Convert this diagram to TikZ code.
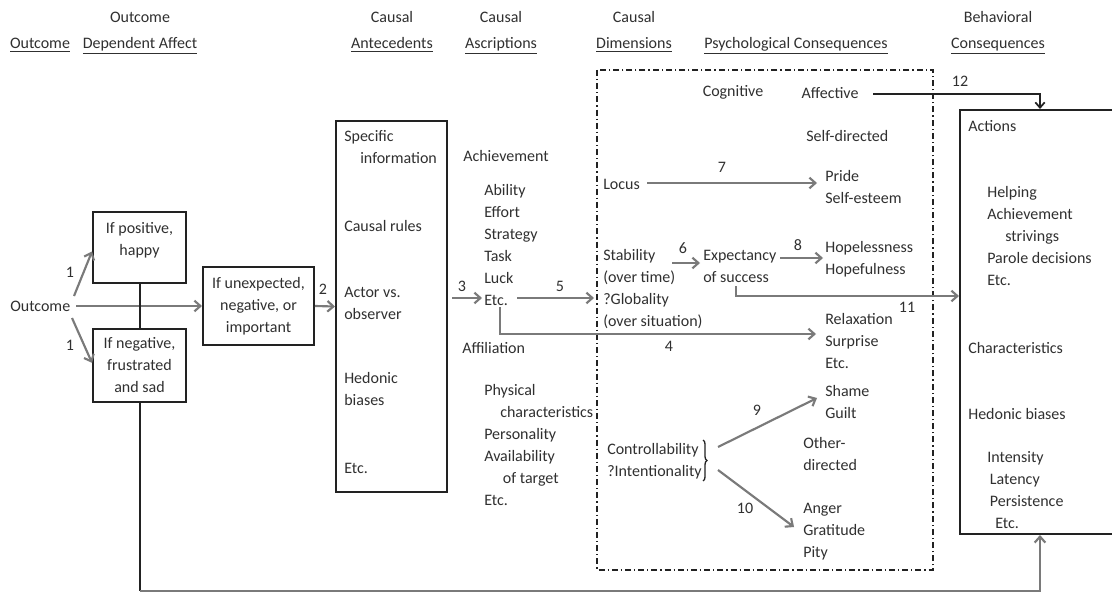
\documentclass[tikz,border=0pt]{standalone}
\usepackage{fontspec}
\setmainfont{Carlito}
\usetikzlibrary{arrows.meta,decorations.pathreplacing}
\definecolor{txtc}{HTML}{303030}
\definecolor{arrc}{HTML}{7A7A7A}
\definecolor{linec}{HTML}{222222}
\begin{document}
\begin{tikzpicture}[x=0.75pt,y=-0.75pt,
  every node/.style={font=\fontsize{12}{16.5}\selectfont, text=txtc},
  txt/.style={anchor=base west, inner sep=0pt, align=left},
  hdr/.style={anchor=base, inner sep=0pt, align=center, font=\fontsize{12}{19.5}\selectfont},
  lbl/.style={anchor=base, inner sep=0pt},
  box/.style={draw=linec, line width=1.5pt, inner sep=0pt, align=center},
  arr/.style={draw=arrc, line width=1.6pt, -{Straight Barb[length=4.5pt,width=8pt,line width=1.6pt]}},
  barr/.style={draw=linec, line width=1.3pt, -{Straight Barb[length=4pt,width=7pt,line width=1.3pt]}},
  dimframe/.style={draw=linec, line width=1.5pt, dash pattern=on 4.5pt off 2.2pt on 1pt off 2.2pt}
]
\fill[white] (0,0) rectangle (1112,595);
\useasboundingbox (0,0) rectangle (1112,595);

% headers (base = last line)
\node[hdr] (hout) at (40,49) {\underline{Outcome}};
\node[hdr] (hoda) at (140,49) {Outcome\\\underline{Dependent Affect}};
\node[hdr] (hante) at (392,49) {Causal\\\underline{Antecedents}};
\node[hdr] (hascr) at (501,49) {Causal\\\underline{Ascriptions}};
\node[hdr] (hdim) at (634,49) {Causal\\\underline{Dimensions}};
\node[hdr] (hpsy) at (796,49) {\underline{Psychological Consequences}};
\node[hdr] (hbeh) at (998,49) {Behavioral\\\underline{Consequences}};

% dimension frame
\draw[dimframe] (597,70) rectangle (933,570);

% left part
\node[txt] (outcome) at (10,311) {Outcome};
\node[box, minimum width=93*0.75pt, minimum height=71*0.75pt, text depth=13pt] (pos) at (139.5,247.5) {If positive,\\happy};
\node[box, minimum width=93*0.75pt, minimum height=73*0.75pt] (neg) at (139.5,365.5) {If negative,\\frustrated\\and sad};
\node[box, minimum width=111*0.75pt, minimum height=78*0.75pt] (unexp) at (258.5,306) {If unexpected,\\negative, or\\important};

% antecedents box
\node[box, minimum width=111*0.75pt, minimum height=371*0.75pt] (ante) at (391.5,306.5) {};
\node[txt] (spec) at (344,164) {Specific\\\hspace*{12pt}information};
\node[txt] (crules) at (344,231) {Causal rules};
\node[txt] (actor) at (344,319) {Actor vs.\\observer};
\node[txt] (hedon) at (344,405) {Hedonic\\biases};
\node[txt] (aetc) at (344,473) {Etc.};

% ascriptions
\node[txt] (achv) at (463,162) {Achievement};
\node[txt] (achlist) at (484,305) {Ability\\Effort\\Strategy\\Task\\Luck\\Etc.};
\node[txt] (affil) at (462,353) {Affiliation};
\node[txt] (afflist) at (484,505) {Physical\\\hspace*{12pt}characteristics\\Personality\\Availability\\\hspace*{14pt}of target\\Etc.};

% dimensions
\node[txt] (locus) at (603,190) {Locus};
\node[txt] (stab) at (603,326) {Stability\\(over time)\\?Globality\\(over situation)};
\node[txt] (ctrl) at (607,476) {Controllability\\?Intentionality};
\draw[linec, line width=1pt, decorate, decoration={brace, amplitude=3pt}] (703,440) -- (703,481);

% psychological consequences
\node[txt, anchor=base] (cogn) at (733,97) {Cognitive};
\node[txt, anchor=base] (affe) at (830,99) {Affective};
\node[txt] (selfd) at (806,142) {Self-directed};
\node[txt] (pride) at (825,204) {Pride\\Self-esteem};
\node[txt] (expect) at (703,282) {Expectancy\\of success};
\node[txt] (hope) at (825,274) {Hopelessness\\Hopefulness};
\node[txt] (relax) at (825,368) {Relaxation\\Surprise\\Etc.};
\node[txt] (shame) at (825,418) {Shame\\Guilt};
\node[txt] (otherd) at (803,470) {Other-\\directed};
\node[txt] (anger) at (803,557) {Anger\\Gratitude\\Pity};

% behavioral box
\node[box, minimum width=156*0.75pt, minimum height=424*0.75pt] (beh) at (1038,322) {};
\node[txt] (actions) at (968,132) {Actions};
\node[txt] (actlist) at (987,285) {Helping\\Achievement\\\hspace*{13.5pt}strivings\\Parole decisions\\Etc.};
\node[txt] (charac) at (968,353) {Characteristics};
\node[txt] (hedb) at (968,419) {Hedonic biases};
\node[txt] (intlist) at (987,528) {Intensity\\\hspace*{2pt}Latency\\\hspace*{2pt}Persistence\\\hspace*{6pt}Etc.};

% coordinates for connector ends
\coordinate (o1a) at (74,296);
\coordinate (o1b) at (72,318);
\coordinate (oa) at (76,306);
\coordinate (a3s) at (452,298);
\coordinate (a3e) at (482,298);
\coordinate (a5s) at (517,298);
\coordinate (a5e) at (594,298);
\coordinate (l4s) at (500,307);
\coordinate (l4m) at (500,334);
\coordinate (l4e) at (816,334);
\coordinate (a7s) at (647,183);
\coordinate (a7e) at (817,183);
\coordinate (a6s) at (672,263);
\coordinate (a6e) at (700,263);
\coordinate (a8s) at (780,258);
\coordinate (a8e) at (823,258);
\coordinate (l11s) at (736,286);
\coordinate (l11m) at (736,296);
\coordinate (a9s) at (718,447);
\coordinate (a9e) at (817,398);
\coordinate (a10s) at (718,470);
\coordinate (a10e) at (794,527);
\coordinate (a12s) at (873,94);
\coordinate (a12m) at (1040,94);
\coordinate (botl) at (139.5,591);
\coordinate (botr) at (1040,591);

% connectors
\draw[arr] (o1a) -- ([yshift=-3pt]pos.west);
\draw[arr] (o1b) -- ([yshift=2pt]neg.west);
\draw[arr] (oa) -- (unexp.west);
\draw[draw=linec, line width=1.5pt] (pos.south) -- (neg.north);
\draw[arr] (unexp.east) -- (ante.west);
\draw[arr] (a3s) -- (a3e);
\draw[arr] (a5s) -- (a5e);
\draw[arr] (l4s) -- (l4m) -- (l4e);
\draw[arr] (a7s) -- (a7e);
\draw[arr] (a6s) -- (a6e);
\draw[arr] (a8s) -- (a8e);
\draw[arr] (l11s) -- (l11m) -- (beh.west |- l11m);
\draw[arr] (a9s) -- (a9e);
\draw[arr] (a10s) -- (a10e);
\draw[barr] (a12s) -- (a12m) -- (a12m |- beh.north);
\draw[draw=linec, line width=1.5pt] (neg.south) -- (botl);
\draw[arr] (botl) -- (botr) -- (botr |- beh.south);

% number labels
\node[lbl] at (70,277) {1};
\node[lbl] at (70,350) {1};
\node[lbl] at (323,294) {2};
\node[lbl] at (462,291) {3};
\node[lbl] at (560,291) {5};
\node[lbl] at (669,351) {4};
\node[lbl] at (722,173) {7};
\node[lbl] at (683,253) {6};
\node[lbl] at (798,250) {8};
\node[lbl] at (907,312) {11};
\node[lbl] at (757,415) {9};
\node[lbl] at (745,513) {10};
\node[lbl] at (960,87) {12};
\end{tikzpicture}
\end{document}
